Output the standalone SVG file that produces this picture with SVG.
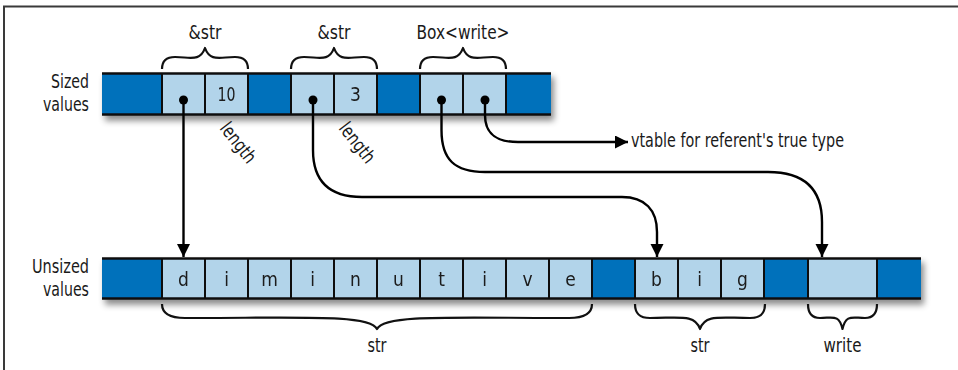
<svg xmlns="http://www.w3.org/2000/svg" width="958" height="370" viewBox="0 0 958 370">
<defs>
<style>
text{font-family:"DejaVu Sans Condensed","DejaVu Sans",sans-serif;font-stretch:condensed;font-size:19px;fill:#1a1a1a}
.dk{fill:#0071bb}
.lt{fill:#b2d4ea}
.sep{stroke:#111;stroke-width:2}
.edge{stroke:#111;stroke-width:2.6}
.brace{fill:none;stroke:#111;stroke-width:2.2;stroke-linejoin:round}
.conn{fill:none;stroke:#000;stroke-width:2.4}
.mid{text-anchor:middle}
.end{text-anchor:end}
</style>
<filter id="shadow" x="-5%" y="-40%" width="110%" height="190%">
<feDropShadow dx="3" dy="5" stdDeviation="3" flood-color="#000" flood-opacity="0.45"/>
</filter>
<marker id="arrow" markerUnits="userSpaceOnUse" markerWidth="14" markerHeight="14" refX="13" refY="6.5" orient="auto">
<path d="M0,0 L13,6.5 L0,13 z" fill="#000"/>
</marker>
</defs>
<rect width="958" height="370" fill="#fff"/>
<path d="M4,370 V6.5 H958" fill="none" stroke="#3a3a3a" stroke-width="2"/>

<!-- row labels -->
<g id="label-sized">
<text class="end" x="89" y="88" textLength="38" lengthAdjust="spacingAndGlyphs">Sized</text>
<text class="end" x="89" y="111" textLength="46" lengthAdjust="spacingAndGlyphs">values</text>
</g>
<g id="label-unsized">
<text class="end" x="89" y="273" textLength="57" lengthAdjust="spacingAndGlyphs">Unsized</text>
<text class="end" x="89" y="296" textLength="46" lengthAdjust="spacingAndGlyphs">values</text>
</g>

<!-- sized row -->
<g id="sized-row" filter="url(#shadow)">
<g id="s0"><rect class="dk" x="102" y="73" width="60" height="42"/></g>
<g id="s1"><rect class="lt" x="162" y="73" width="43" height="42"/><circle cx="183.5" cy="100" r="4.5" fill="#000"/></g>
<g id="s2"><rect class="lt" x="205" y="73" width="43" height="42"/><text class="mid" x="226.5" y="101" textLength="18" lengthAdjust="spacingAndGlyphs">10</text></g>
<g id="s3"><rect class="dk" x="248" y="73" width="43" height="42"/></g>
<g id="s4"><rect class="lt" x="291" y="73" width="43" height="42"/><circle cx="313" cy="100" r="4.5" fill="#000"/></g>
<g id="s5"><rect class="lt" x="334" y="73" width="43" height="42"/><text class="mid" x="355.5" y="101">3</text></g>
<g id="s6"><rect class="dk" x="377" y="73" width="43" height="42"/></g>
<g id="s7"><rect class="lt" x="420" y="73" width="43" height="42"/><circle cx="441.5" cy="100" r="4.5" fill="#000"/></g>
<g id="s8"><rect class="lt" x="463" y="73" width="43" height="42"/><circle cx="485" cy="100" r="4.5" fill="#000"/></g>
<g id="s9"><rect class="dk" x="506" y="73" width="45" height="42"/></g>
<path class="sep" d="M162,73V115M205,73V115M248,73V115M291,73V115M334,73V115M377,73V115M420,73V115M463,73V115M506,73V115"/>
<path class="edge" d="M102,73.5H551M102,114.5H551"/>
</g>

<!-- unsized row -->
<g id="unsized-row" filter="url(#shadow)">
<g id="u0"><rect class="dk" x="102" y="258" width="60" height="41"/></g>
<g id="u1"><rect class="lt" x="162" y="258" width="43" height="41"/><text class="mid" x="183.5" y="286">d</text></g>
<g id="u2"><rect class="lt" x="205" y="258" width="43" height="41"/><text class="mid" x="226.5" y="286">i</text></g>
<g id="u3"><rect class="lt" x="248" y="258" width="43" height="41"/><text class="mid" x="269.5" y="286">m</text></g>
<g id="u4"><rect class="lt" x="291" y="258" width="43" height="41"/><text class="mid" x="312.5" y="286">i</text></g>
<g id="u5"><rect class="lt" x="334" y="258" width="43" height="41"/><text class="mid" x="355.5" y="286">n</text></g>
<g id="u6"><rect class="lt" x="377" y="258" width="43" height="41"/><text class="mid" x="398.5" y="286">u</text></g>
<g id="u7"><rect class="lt" x="420" y="258" width="43" height="41"/><text class="mid" x="441.5" y="286">t</text></g>
<g id="u8"><rect class="lt" x="463" y="258" width="43" height="41"/><text class="mid" x="484.5" y="286">i</text></g>
<g id="u9"><rect class="lt" x="506" y="258" width="43" height="41"/><text class="mid" x="527.5" y="286">v</text></g>
<g id="u10"><rect class="lt" x="549" y="258" width="43" height="41"/><text class="mid" x="570.5" y="286">e</text></g>
<g id="u11"><rect class="dk" x="592" y="258" width="43" height="41"/></g>
<g id="u12"><rect class="lt" x="635" y="258" width="43" height="41"/><text class="mid" x="656.5" y="286">b</text></g>
<g id="u13"><rect class="lt" x="678" y="258" width="43" height="41"/><text class="mid" x="699.5" y="286">i</text></g>
<g id="u14"><rect class="lt" x="721" y="258" width="43" height="41"/><text class="mid" x="742.5" y="286">g</text></g>
<g id="u15"><rect class="dk" x="764" y="258" width="44" height="41"/></g>
<g id="u16"><rect class="lt" x="808" y="258" width="69" height="41"/></g>
<g id="u17"><rect class="dk" x="877" y="258" width="44" height="41"/></g>
<path class="sep" d="M162,258V299M205,258V299M248,258V299M291,258V299M334,258V299M377,258V299M420,258V299M463,258V299M506,258V299M549,258V299M592,258V299M635,258V299M678,258V299M721,258V299M764,258V299M808,258V299M877,258V299"/>
<path class="edge" d="M102,258.5H921M102,298.5H921"/>
</g>

<!-- top braces -->
<g id="brace-str1">
<path class="brace" d="M162,69 C162,60 167,57 175,57 C190,57 200,62 205,48 C210,62 220,57 235,57 C243,57 248,60 248,69"/>
<text class="mid" x="205" y="39" textLength="33" lengthAdjust="spacingAndGlyphs">&amp;str</text>
</g>
<g id="brace-str2">
<path class="brace" d="M291,69 C291,60 296,57 304,57 C319,57 329,62 334,48 C339,62 349,57 364,57 C372,57 377,60 377,69"/>
<text class="mid" x="334" y="39" textLength="33" lengthAdjust="spacingAndGlyphs">&amp;str</text>
</g>
<g id="brace-box">
<path class="brace" d="M420,69 C420,60 425,57 433,57 C448,57 458,62 463,48 C468,62 478,57 493,57 C501,57 506,60 506,69"/>
<text class="mid" x="463" y="39" textLength="93" lengthAdjust="spacingAndGlyphs">Box&lt;write&gt;</text>
</g>

<!-- length labels -->
<g id="length1"><text class="mid" transform="translate(238,143) rotate(52)" y="6" textLength="46" lengthAdjust="spacingAndGlyphs">length</text></g>
<g id="length2"><text class="mid" transform="translate(357,143) rotate(52)" y="6" textLength="46" lengthAdjust="spacingAndGlyphs">length</text></g>

<!-- bottom braces -->
<g id="brace-diminutive">
<path class="brace" d="M162,304 C162,314 170,318 185,318 C300,318 370,314 377,329 C384,314 454,318 569,318 C584,318 592,314 592,304"/>
<text class="mid" x="377" y="352" textLength="19" lengthAdjust="spacingAndGlyphs">str</text>
</g>
<g id="brace-big">
<path class="brace" d="M635,304 C635,314 640,318 650,318 C680,318 695,314 700,329 C705,314 720,318 750,318 C760,318 765,314 765,304"/>
<text class="mid" x="700" y="352" textLength="19" lengthAdjust="spacingAndGlyphs">str</text>
</g>
<g id="brace-write">
<path class="brace" d="M808,304 C808,314 812,318 820,318 C833,318 839,314 842.5,329 C846,314 852,318 865,318 C873,318 877,314 877,304"/>
<text class="mid" x="842.5" y="352" textLength="38" lengthAdjust="spacingAndGlyphs">write</text>
</g>

<g id="vtable-label"><text x="631" y="147" textLength="213" lengthAdjust="spacingAndGlyphs">vtable for referent's true type</text></g>

<!-- connectors -->
<g id="connectors">
<path class="conn" d="M183.5,100 V257" marker-end="url(#arrow)"/>
<path class="conn" d="M313,100 V150 C313,182 330,197 362,197 H622 C645,197 657,210 657,232 V257" marker-end="url(#arrow)"/>
<path class="conn" d="M441.5,100 V130 C441.5,160 455,172 485,172 H768 C805,172 822,190 822,222 V257" marker-end="url(#arrow)"/>
<path class="conn" d="M485,100 V115 C485,134 496,142 518,142 H628" marker-end="url(#arrow)"/>
</g>
</svg>
